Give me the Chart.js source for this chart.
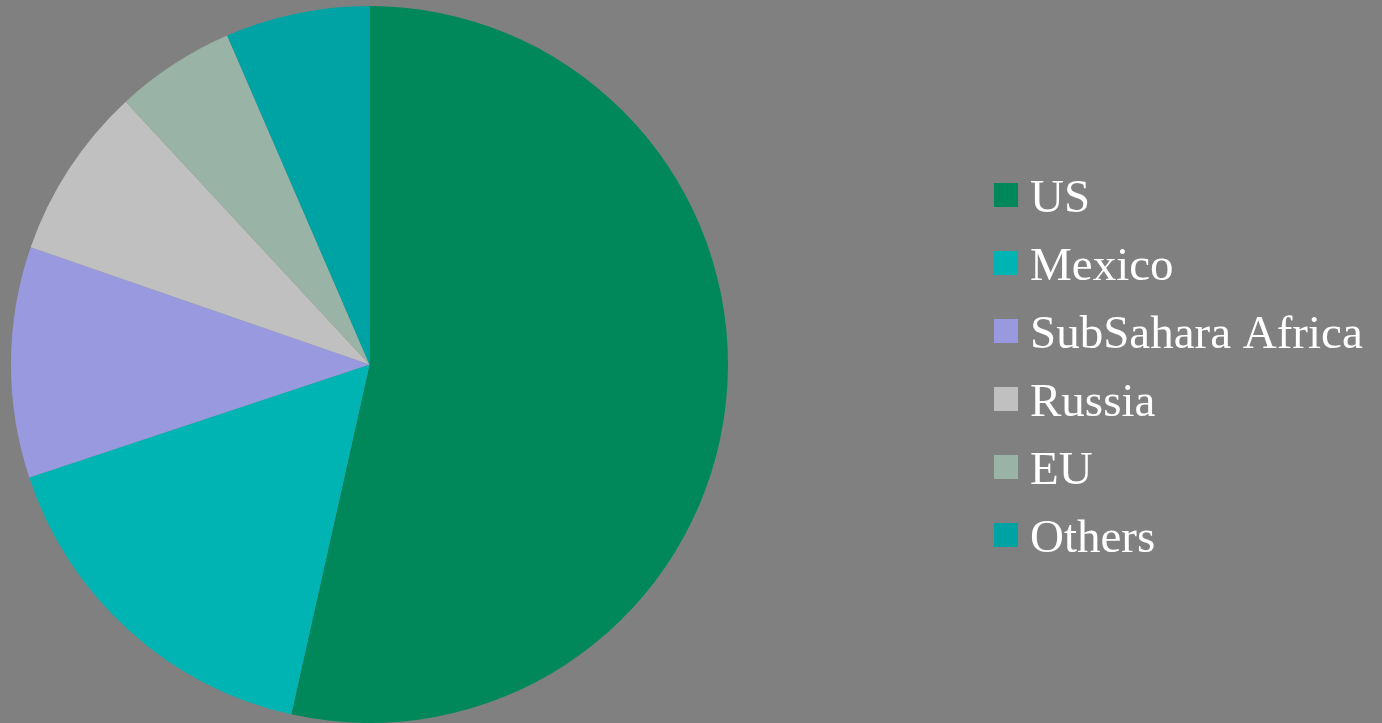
<!DOCTYPE html>
<html>
<head>
<meta charset="utf-8">
<script src="https://cdn.jsdelivr.net/npm/chart.js@4/dist/chart.umd.min.js"></script>
<style>
  html, body { margin: 0; padding: 0; background: #808080; }
  #wrap { width: 1382px; height: 723px; }
</style>
</head>
<body>
<div id="wrap"><canvas id="chart"></canvas></div>
<script>
const labels = ['US', 'Mexico', 'SubSahara Africa', 'Russia', 'EU', 'Others'];
const shares = [53.5, 16.4, 10.4, 7.8, 5.4, 6.5];
const colors = ['#00875a', '#00b4b4', '#9999e0', '#c0c0c0', '#99b3a6', '#00a3a3'];

// legend drawn by hand so the rows sit to the right of the pie
const sideLegend = {
  id: 'sideLegend',
  afterDraw(chart) {
    const ctx = chart.ctx;
    const ds = chart.data.datasets[0];
    ctx.save();
    ctx.font = '47px "Liberation Serif", "Times New Roman", serif';
    ctx.fillStyle = '#ffffff';
    ctx.textBaseline = 'alphabetic';
    chart.data.labels.forEach((label, i) => {
      const base = 212 + i * 68;
      ctx.fillStyle = ds.backgroundColor[i];
      ctx.fillRect(994, base - 29, 24, 24);
      ctx.fillStyle = '#ffffff';
      ctx.fillText(label, 1030, base);
    });
    ctx.restore();
  }
};

new Chart(document.getElementById('chart'), {
  type: 'pie',
  data: {
    labels: labels,
    datasets: [{
      data: shares,
      backgroundColor: colors,
      borderWidth: 0
    }]
  },
  options: {
    responsive: true,
    maintainAspectRatio: false,
    animation: false,
    layout: {
      padding: { top: 6, bottom: 0, left: 11, right: 654 }
    },
    plugins: {
      legend: { display: false },
      tooltip: { enabled: false }
    }
  },
  plugins: [sideLegend]
});
</script>
</body>
</html>
